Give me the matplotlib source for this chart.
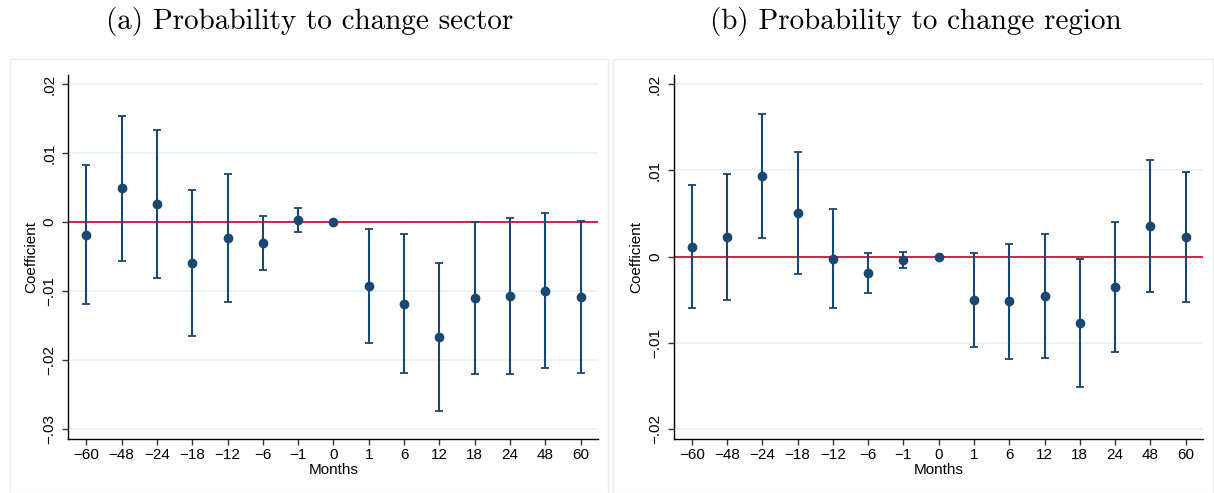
import matplotlib
matplotlib.use("Agg")
import matplotlib.pyplot as plt
from matplotlib.patches import Rectangle

# event-time categories (months relative to the event)
months = ["−60", "−48", "−24", "−18", "−12", "−6", "−1", "0",
          "1", "6", "12", "18", "24", "48", "60"]

# (a) change sector: point estimates and 95% CI bounds
sector_coef = [-0.00184, 0.00488, 0.00261, -0.00594, -0.00227, -0.00309, 0.00029, 0.0,
               -0.00923, -0.01179, -0.01667, -0.01101, -0.01072, -0.00995, -0.01087]
sector_hi = [0.00826, 0.01531, 0.01329, 0.00459, 0.00700, 0.00082, 0.00203, 0.0,
             -0.00101, -0.00174, -0.00599, -0.00005, 0.00053, 0.00126, 0.00019]
sector_lo = [-0.01188, -0.00556, -0.00802, -0.01647, -0.01150, -0.00696, -0.00140, 0.0,
             -0.01744, -0.02179, -0.02729, -0.02193, -0.02193, -0.02116, -0.02188]

# (b) change region
region_coef = [0.00116, 0.00232, 0.00930, 0.00502, -0.00023, -0.00189, -0.00042, 0.0,
               -0.00498, -0.00517, -0.00459, -0.00772, -0.00347, 0.00355, 0.00228]
region_hi = [0.00834, 0.00961, 0.01656, 0.01208, 0.00548, 0.00046, 0.00050, 0.0,
             0.00046, 0.00151, 0.00259, -0.00031, 0.00402, 0.01120, 0.00977]
region_lo = [-0.00598, -0.00498, 0.00212, -0.00205, -0.00591, -0.00425, -0.00131, 0.0,
             -0.01042, -0.01189, -0.01178, -0.01514, -0.01100, -0.00409, -0.00521]

sector_yticks = [0.02, 0.01, 0.0, -0.01, -0.02, -0.03]
sector_ylabels = [".02", ".01", "0", "−.01", "−.02", "−.03"]
region_yticks = [0.02, 0.01, 0.0, -0.01, -0.02]
region_ylabels = [".02", ".01", "0", "−.01", "−.02"]

navy = "#1a476f"
red = "#d0103a"
grid = "#eaf2f3"

plt.rcParams["font.family"] = ["Liberation Sans", "DejaVu Sans"]

fig = plt.figure(figsize=(12.14, 4.93), dpi=100)
W, H = 1214, 493


def px_rect(x0, y0, x1, y1):
    return [x0 / W, 1 - y1 / H, (x1 - x0) / W, (y1 - y0) / H]


# light frames around each panel
for (fx0, fx1) in [(10, 608), (613, 1213)]:
    fig.patches.append(Rectangle((fx0 / W, 0), (fx1 - fx0) / W, 1 - 59 / H,
                                 transform=fig.transFigure, fill=False,
                                 edgecolor="#e9eded", linewidth=1.0))


def panel(rect, coef, lo, hi, yticks, ylabels, ylim):
    ax = fig.add_axes(rect)
    x = list(range(1, len(months) + 1))
    err = [[c - l for c, l in zip(coef, lo)], [h - c for c, h in zip(coef, hi)]]
    ax.axhline(0, color=red, linewidth=1.3, zorder=2)
    ax.errorbar(x, coef, yerr=err, fmt="o", color=navy, markersize=6,
                elinewidth=1.5, capsize=3, capthick=1.3, zorder=3)
    ax.set_xlim(0.49, 15.5)
    ax.set_ylim(*ylim)
    ax.set_xticks(x)
    ax.set_xticklabels(months, fontsize=11)
    ax.set_yticks(yticks)
    ax.set_yticklabels(ylabels, fontsize=11, rotation=90, va="center")
    ax.yaxis.grid(True, color=grid, linewidth=1.3)
    ax.set_axisbelow(True)
    for s in ["top", "right"]:
        ax.spines[s].set_visible(False)
    for s in ["left", "bottom"]:
        ax.spines[s].set_linewidth(1.0)
    ax.tick_params(direction="out", length=4.5, width=1.0, color="#333333")
    ax.tick_params(axis="x", pad=2)
    ax.tick_params(axis="y", pad=4)
    ax.set_xlabel("Months", fontsize=11, labelpad=1)
    ax.set_ylabel("Coefficient", fontsize=11, labelpad=3)
    return ax


panel(px_rect(68.3, 75, 598.3, 439), sector_coef, sector_lo, sector_hi,
      sector_yticks, sector_ylabels, (-0.0314, 0.0213))
panel(px_rect(673.7, 75, 1203.3, 439), region_coef, region_lo, region_hi,
      region_yticks, region_ylabels, (-0.02112, 0.02104))

fig.text(310 / W, 1 - 22 / H, "(a) Probability to change sector",
         family="cmr10", fontsize=21, ha="center", va="center")
fig.text(916 / W, 1 - 22 / H, "(b) Probability to change region",
         family="cmr10", fontsize=21, ha="center", va="center")

fig.savefig("out.png", dpi=100)
